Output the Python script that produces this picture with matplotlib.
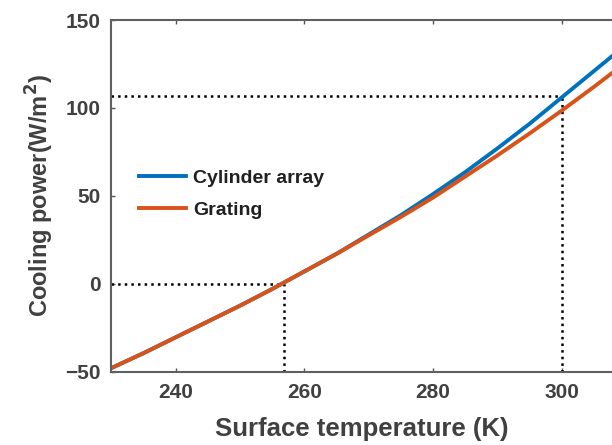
import matplotlib
matplotlib.use('Agg')
import matplotlib.pyplot as plt
import numpy as np

# surface temperature (K) and cooling power (W/m^2)
temp = [230, 235, 240, 245, 250, 255, 260, 265, 270, 275, 280, 285, 290, 295, 300, 305, 310]
cylinder = [-48, -39.5, -30.5, -21.5, -12.5, -3, 7, 17, 28, 39, 51, 63.5, 77, 91, 106, 121, 136]
grating = [-48, -39.5, -30.5, -21.5, -12.5, -3, 7, 17, 27.5, 38, 49, 61, 73, 85.5, 98.5, 112, 126]

# marked points
t_zero = 256.8
t_mark = 300
p_mark = 106.5

xticks = [240, 260, 280, 300]
yticks = [-50, 0, 50, 100, 150]

plt.rcParams['font.family'] = ['Liberation Sans', 'DejaVu Sans']
plt.rcParams['font.weight'] = 'bold'
plt.rcParams['mathtext.default'] = 'bf'
txt = '#404040'

fig = plt.figure(figsize=(6.12, 4.45), dpi=100)
ax = fig.add_axes([0.182, 0.165, 0.818, 0.79])

# dotted guide lines
ax.plot([230, t_zero], [0, 0], ls=':', c='black', lw=1.8)
ax.plot([t_zero, t_zero], [-50, 0], ls=':', c='black', lw=1.8)
ax.plot([230, t_mark], [p_mark, p_mark], ls=':', c='black', lw=1.8)
ax.plot([t_mark, t_mark], [-50, p_mark], ls=':', c='black', lw=1.8)

ax.plot(temp, cylinder, c='#0072BD', lw=2.8, label='Cylinder array')
ax.plot(temp, grating, c='#D95319', lw=2.8, label='Grating')

ax.set_xlim(230, 307.8)
ax.set_ylim(-50, 150)
ax.set_xticks(xticks)
ax.set_yticks(yticks)
ax.set_yticklabels(['\u221250', '0', '50', '100', '150'])
ax.tick_params(direction='in', length=3, width=1, colors='#555555',
               labelcolor=txt, labelsize=15, top=True, pad=8)

for s in ['left', 'bottom', 'top']:
    ax.spines[s].set_color('#606060')
    ax.spines[s].set_linewidth(1.5)
ax.spines['right'].set_visible(False)

ax.set_xlabel('Surface temperature (K)', fontsize=18.5, fontweight='bold', color=txt, labelpad=11)
ax.set_ylabel('Cooling power(W/m$^2$)', fontsize=17, fontweight='bold', color=txt, labelpad=6)

leg = ax.legend(loc='upper left', bbox_to_anchor=(0.02, 0.625), frameon=False,
                fontsize=14, handlelength=2.4, labelspacing=0.75, handletextpad=0.4)
for t in leg.get_texts():
    t.set_color('#202020')

fig.savefig('out.png', dpi=100)
